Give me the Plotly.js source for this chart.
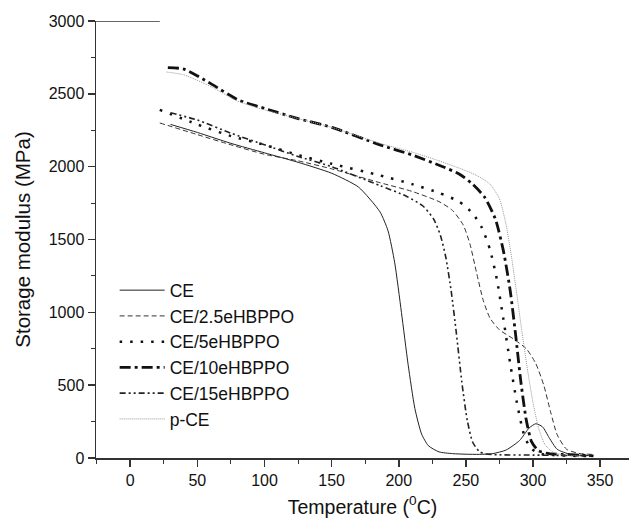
<!DOCTYPE html>
<html>
<head>
<meta charset="utf-8">
<script src="https://cdn.plot.ly/plotly-3.0.1.min.js"></script>
<style>html,body{margin:0;padding:0;background:#fff;}#chart{width:629px;height:524px;}</style>
</head>
<body>
<div id="chart"></div>
<script>
// Temperature (°C) / Storage modulus (MPa)
var seriesNames = ["CE", "CE/2.5eHBPPO", "CE/5eHBPPO", "CE/10eHBPPO", "CE/15eHBPPO", "p-CE"];

var tCE  = [30, 50, 75, 100, 125, 150, 170, 186, 192, 197, 202, 207, 212, 217, 222, 230, 240, 250, 260, 270, 280, 290, 297, 302, 307, 312, 318, 328, 345];
var eCE  = [2290, 2235, 2160, 2095, 2030, 1955, 1860, 1690, 1560, 1340, 1000, 640, 340, 165, 85, 42, 30, 26, 25, 30, 55, 120, 205, 235, 215, 140, 60, 25, 15];

var tCE25 = [22, 50, 75, 100, 125, 150, 186, 210, 230, 240, 248, 253, 258, 263, 268, 275, 285, 295, 302, 308, 313, 318, 325, 335, 345];
var eCE25 = [2300, 2220, 2150, 2085, 2040, 1985, 1890, 1830, 1760, 1700, 1600, 1470, 1270, 1080, 960, 880, 820, 750, 650, 500, 320, 160, 60, 30, 25];

var tCE5 = [22, 50, 75, 100, 125, 150, 186, 210, 230, 245, 255, 262, 268, 273, 278, 283, 288, 293, 298, 305, 315, 330, 345];
var eCE5 = [2390, 2290, 2210, 2150, 2080, 2020, 1940, 1880, 1820, 1760, 1680, 1580, 1430, 1230, 950, 650, 380, 170, 70, 30, 20, 15, 12];

var tCE10 = [28, 40, 60, 80, 100, 125, 150, 186, 210, 230, 245, 255, 264, 272, 278, 283, 287, 291, 295, 299, 304, 312, 322, 335, 345];
var eCE10 = [2680, 2670, 2570, 2460, 2400, 2330, 2270, 2150, 2080, 2010, 1950, 1880, 1790, 1640, 1420, 1150, 850, 520, 260, 110, 50, 30, 25, 20, 15];

var tCE15 = [30, 50, 75, 100, 125, 150, 186, 205, 218, 226, 231, 235, 239, 243, 247, 251, 255, 260, 265, 275, 300, 320, 345];
var eCE15 = [2370, 2320, 2230, 2150, 2070, 2000, 1870, 1800, 1730, 1640, 1530, 1380, 1150, 850, 520, 260, 110, 45, 28, 22, 20, 18, 15];

var tPCE = [27, 40, 60, 80, 100, 125, 150, 186, 210, 230, 245, 258, 268, 275, 280, 284, 288, 292, 296, 300, 304, 309, 315, 322, 335];
var ePCE = [2650, 2630, 2550, 2450, 2390, 2330, 2270, 2160, 2100, 2040, 1990, 1940, 1880, 1780, 1600, 1380, 1120, 850, 600, 380, 210, 90, 40, 22, 15];

var xTickVals = [0, 50, 100, 150, 200, 250, 300, 350];
var yTickVals = [0, 500, 1000, 1500, 2000, 2500, 3000];

var xs = [tCE, tCE25, tCE5, tCE10, tCE15, tPCE];
var ys = [eCE, eCE25, eCE5, eCE10, eCE15, ePCE];
var styles = [
  {color: "#222", width: 1, dash: "solid"},
  {color: "#333", width: 1, dash: "5px,3px"},
  {color: "#111", width: 2.5, dash: "2.5px,8px"},
  {color: "#111", width: 2.8, dash: "11px,4px,3px,4px"},
  {color: "#222", width: 1.6, dash: "6px,3px,2px,3px,2px,3px"},
  {color: "#999", width: 1, dash: "1px,1px"}
];

var traces = seriesNames.map(function (n, i) {
  return {x: xs[i], y: ys[i], name: n, type: "scatter", mode: "lines",
          line: {color: styles[i].color, width: styles[i].width, dash: styles[i].dash, shape: "spline", smoothing: 0.6}};
});

var fam = "Liberation Sans, Arial, sans-serif";
var layout = {
  width: 629, height: 524,
  margin: {l: 96, r: 0, t: 21, b: 66},
  paper_bgcolor: "#fff", plot_bgcolor: "#fff",
  showlegend: true,
  legend: {x: 0.035, y: 0.425, xanchor: "left", yanchor: "top", bgcolor: "rgba(0,0,0,0)",
           font: {family: fam, size: 17.5, color: "#111"}, itemwidth: 45, tracegroupgap: 0},
  xaxis: {
    range: [-25.5, 371.5], showgrid: false, zeroline: false, showline: true, linecolor: "#333", linewidth: 1.5,
    ticks: "outside", ticklen: 7, tickwidth: 1.5, tickcolor: "#333",
    tickvals: xTickVals, ticktext: xTickVals.map(String),
    tickfont: {family: fam, size: 16, color: "#111"},
    minor: {dtick: 25, tick0: 0, ticks: "outside", ticklen: 4, tickwidth: 1, tickcolor: "#333", showgrid: false},
    title: {text: "Temperature (<sup>0</sup>C)", font: {family: fam, size: 19.5, color: "#111"}, standoff: 12}
  },
  yaxis: {
    range: [0, 3000], showgrid: false, zeroline: false, showline: true, linecolor: "#333", linewidth: 1.5,
    ticks: "outside", ticklen: 7, tickwidth: 1.5, tickcolor: "#333",
    tickvals: yTickVals, ticktext: yTickVals.map(String),
    tickfont: {family: fam, size: 16, color: "#111"},
    minor: {dtick: 250, tick0: 0, ticks: "outside", ticklen: 4, tickwidth: 1, tickcolor: "#333", showgrid: false},
    title: {text: "Storage modulus (MPa)", font: {family: fam, size: 20.5, color: "#111"}, standoff: 12}
  },
  shapes: [{type: "line", xref: "x", yref: "y", x0: -25.5, x1: 22, y0: 3000, y1: 3000,
            line: {color: "#333", width: 1.5}}]
};

Plotly.newPlot("chart", traces, layout, {displayModeBar: false, staticPlot: true});
</script>
</body>
</html>
